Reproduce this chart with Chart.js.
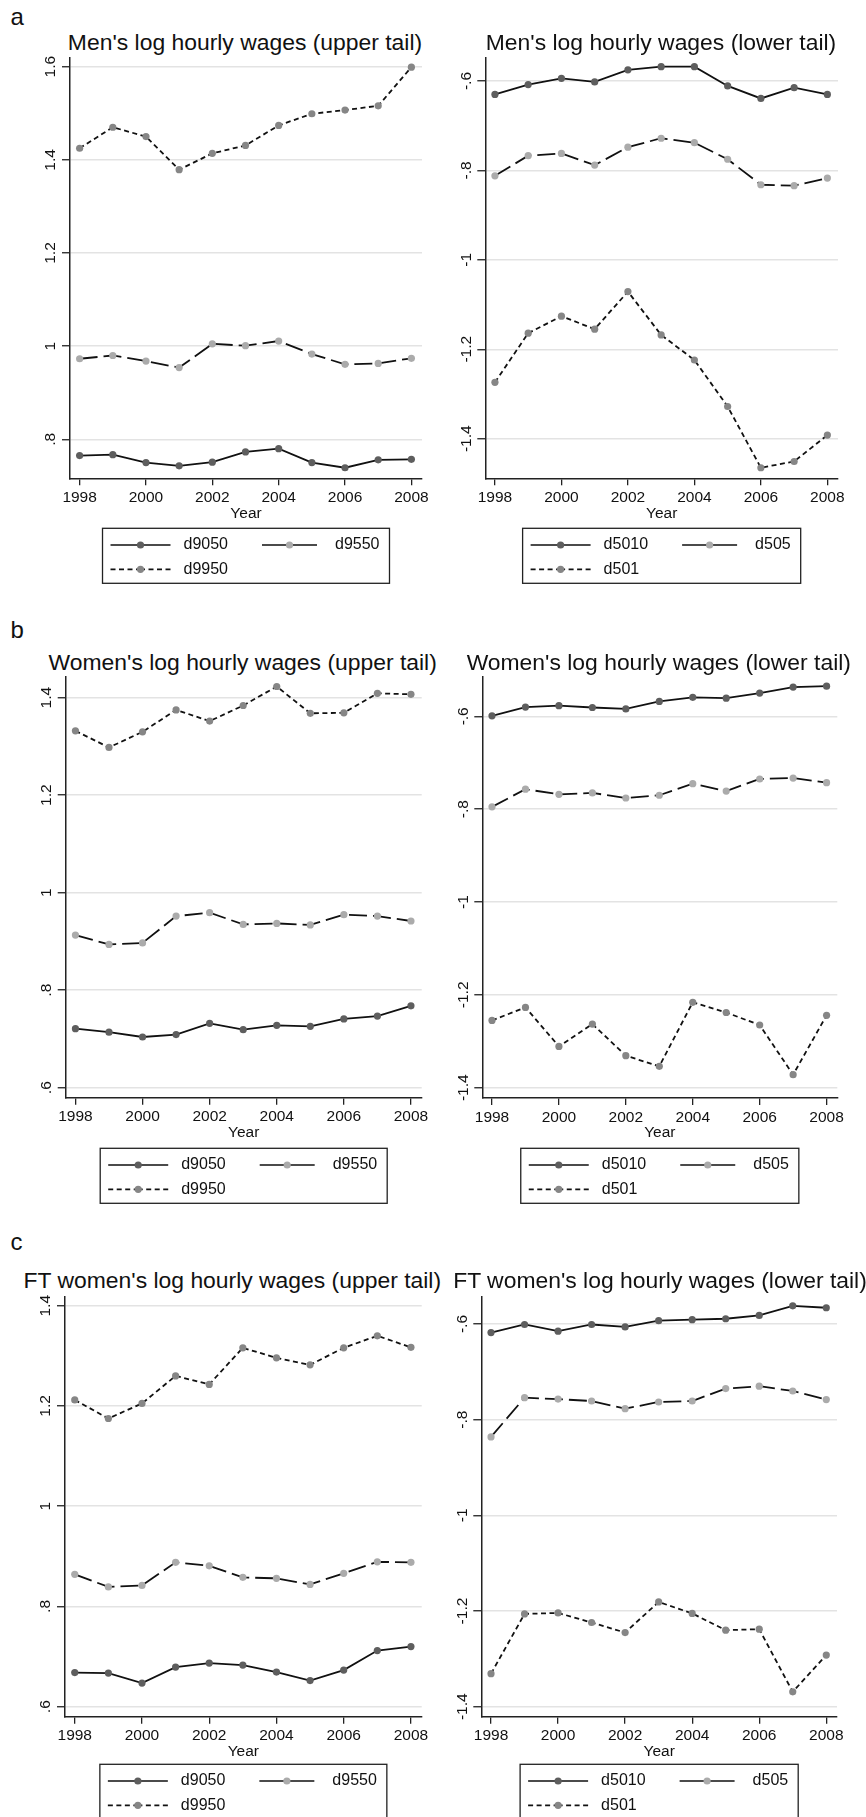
<!DOCTYPE html>
<html lang="en">
<head>
<meta charset="UTF-8">
<title>Log hourly wages, upper and lower tail</title>
<style>
  html, body { margin: 0; padding: 0; background: #fff; overflow: hidden; }
  #page { position: relative; width: 866px; height: 1817px; font-family: "Liberation Sans", Arial, Helvetica, sans-serif; color: #111; }
  #page canvas { position: absolute; }
  .titulo { position: absolute; width: 520px; text-align: center; font-size: 22.9px; line-height: 23px; white-space: nowrap; }
  .letra { position: absolute; left: 10.5px; font-size: 24px; line-height: 24px; }
</style>
</head>
<body>
<div id="page">
  <div class="letra" style="top:4.7px">a</div>
  <div class="letra" style="top:618px">b</div>
  <div class="letra" style="top:1230.4px">c</div>
</div>

<script src="https://cdn.jsdelivr.net/npm/chart.js"></script>
<script>
// dados
const years = [1998, 1999, 2000, 2001, 2002, 2003, 2004, 2005, 2006, 2007, 2008];
const xTickYears = [1998, 2000, 2002, 2004, 2006, 2008];

const upperNames = ['d9050', 'd9550', 'd9950'];
const lowerNames = ['d5010', 'd505', 'd501'];

const menUpperTicks = [0.8, 1, 1.2, 1.4, 1.6];
const menUpperTickLabels = ['.8', '1', '1.2', '1.4', '1.6'];
const womenUpperTicks = [0.6, 0.8, 1, 1.2, 1.4];
const womenUpperTickLabels = ['.6', '.8', '1', '1.2', '1.4'];
const lowerTicks = [-1.4, -1.2, -1, -0.8, -0.6];
const lowerTickLabels = ['-1.4', '-1.2', '-1', '-.8', '-.6'];

// a: homens
const menD9050 = [0.765, 0.767, 0.750, 0.743, 0.751, 0.773, 0.780, 0.750, 0.739, 0.756, 0.757];
const menD9550 = [0.973, 0.980, 0.968, 0.954, 1.005, 1.001, 1.011, 0.983, 0.961, 0.963, 0.974];
const menD9950 = [1.425, 1.470, 1.450, 1.379, 1.414, 1.431, 1.474, 1.499, 1.507, 1.516, 1.599];
const menD5010 = [-0.630, -0.608, -0.594, -0.602, -0.575, -0.568, -0.568, -0.611, -0.639, -0.615, -0.630];
const menD505 = [-0.812, -0.767, -0.762, -0.788, -0.748, -0.728, -0.738, -0.775, -0.832, -0.834, -0.817];
const menD501 = [-1.274, -1.164, -1.126, -1.155, -1.071, -1.168, -1.224, -1.328, -1.465, -1.451, -1.392];

// b: mulheres
const womenD9050 = [0.721, 0.714, 0.704, 0.709, 0.732, 0.719, 0.728, 0.726, 0.741, 0.747, 0.768];
const womenD9550 = [0.913, 0.894, 0.897, 0.952, 0.959, 0.935, 0.937, 0.934, 0.955, 0.952, 0.942];
const womenD9950 = [1.332, 1.298, 1.330, 1.375, 1.352, 1.384, 1.423, 1.368, 1.369, 1.409, 1.407];
const womenD5010 = [-0.599, -0.580, -0.577, -0.581, -0.584, -0.568, -0.559, -0.561, -0.550, -0.537, -0.535];
const womenD505 = [-0.795, -0.757, -0.768, -0.765, -0.776, -0.770, -0.745, -0.761, -0.735, -0.733, -0.743];
const womenD501 = [-1.255, -1.227, -1.311, -1.263, -1.331, -1.354, -1.216, -1.238, -1.265, -1.372, -1.244];

// c: mulheres tempo integral
const ftD9050 = [0.668, 0.667, 0.647, 0.679, 0.687, 0.683, 0.669, 0.652, 0.673, 0.712, 0.720];
const ftD9550 = [0.864, 0.839, 0.842, 0.888, 0.881, 0.858, 0.856, 0.844, 0.866, 0.889, 0.888];
const ftD9950 = [1.212, 1.175, 1.205, 1.260, 1.243, 1.316, 1.296, 1.282, 1.316, 1.340, 1.317];
const ftD5010 = [-0.618, -0.601, -0.615, -0.601, -0.606, -0.593, -0.591, -0.589, -0.582, -0.562, -0.566];
const ftD505 = [-0.836, -0.754, -0.757, -0.761, -0.777, -0.763, -0.761, -0.735, -0.730, -0.740, -0.758];
const ftD501 = [-1.331, -1.206, -1.204, -1.224, -1.245, -1.181, -1.205, -1.240, -1.238, -1.369, -1.292];

const fontFamily = '"Liberation Sans", Arial, Helvetica, sans-serif';
const dotColors = ['#5e5e5e', '#ababab', '#868686'];
const lineDashes = [[], [18, 6], [5, 3.5]];
const keyDashes = [[], [], [5, 3.5]];
const Y_AXIS_W = 40;
const X_AXIS_H = 44.3;

// posicao de cada painel na pagina (px)
const panels = [
    { title: "Men's log hourly wages (upper tail)", titleX: 245, titleBase: 50,
      box: {x: 0, y: 30, w: 433, h: 560}, area: {l: 70, t: 57.5, r: 422, b: 478.3},
      yMin: 0.7163, yMax: 1.6198, ticks: menUpperTicks, tickLabels: menUpperTickLabels,
      names: upperNames, series: [menD9050, menD9550, menD9950], legendTop: 528.3 },
    { title: "Men's log hourly wages (lower tail)", titleX: 661, titleBase: 50,
      box: {x: 433, y: 30, w: 433, h: 560}, area: {l: 485.3, t: 57.5, r: 838, b: 478.3},
      yMin: -1.4886, yMax: -0.5474, ticks: lowerTicks, tickLabels: lowerTickLabels,
      names: lowerNames, series: [menD5010, menD505, menD501], legendTop: 528.3 },
    { title: "Women's log hourly wages (upper tail)", titleX: 242.7, titleBase: 670,
      box: {x: 0, y: 650, w: 433, h: 560}, area: {l: 65.7, t: 677, r: 421.7, b: 1097.7},
      yMin: 0.5795, yMax: 1.4425, ticks: womenUpperTicks, tickLabels: womenUpperTickLabels,
      names: upperNames, series: [womenD9050, womenD9550, womenD9950], legendTop: 1148.3 },
    { title: "Women's log hourly wages (lower tail)", titleX: 658.8, titleBase: 670,
      box: {x: 433, y: 650, w: 433, h: 560}, area: {l: 482.3, t: 677, r: 837.3, b: 1098},
      yMin: -1.4222, yMax: -0.5153, ticks: lowerTicks, tickLabels: lowerTickLabels,
      names: lowerNames, series: [womenD5010, womenD505, womenD501], legendTop: 1148.3 },
    { title: "FT women's log hourly wages (upper tail)", titleX: 232.3, titleBase: 1288.3,
      box: {x: 0, y: 1270, w: 433, h: 547}, area: {l: 65, t: 1296.5, r: 421.7, b: 1716.7},
      yMin: 0.58, yMax: 1.4184, ticks: womenUpperTicks, tickLabels: womenUpperTickLabels,
      names: upperNames, series: [ftD9050, ftD9550, ftD9950], legendTop: 1764.3 },
    { title: "FT women's log hourly wages (lower tail)", titleX: 660, titleBase: 1288.3,
      box: {x: 433, y: 1270, w: 433, h: 547}, area: {l: 481.3, t: 1296.5, r: 837, b: 1716.7},
      yMin: -1.4209, yMax: -0.5425, ticks: lowerTicks, tickLabels: lowerTickLabels,
      names: lowerNames, series: [ftD5010, ftD505, ftD501], legendTop: 1764.3 }
];

// rotulos do eixo y (girados) e legenda no estilo Stata
function decorPlugin(p) {
    return {
        id: 'decor',
        afterDraw(chart) {
            const ctx = chart.ctx;
            const area = chart.chartArea;
            const yScale = chart.scales.y;

            ctx.save();
            ctx.font = '15.5px ' + fontFamily;
            ctx.fillStyle = '#111';
            ctx.textAlign = 'center';
            ctx.textBaseline = 'alphabetic';
            p.ticks.forEach((v, i) => {
                ctx.save();
                ctx.translate(area.left - 14.8, yScale.getPixelForValue(v));
                ctx.rotate(-Math.PI / 2);
                ctx.fillText(p.tickLabels[i], 0, 0);
                ctx.restore();
            });
            ctx.restore();

            // legenda
            ctx.save();
            ctx.font = '16px ' + fontFamily;
            const w1 = Math.max(ctx.measureText(p.names[0]).width, ctx.measureText(p.names[2]).width);
            const w2 = ctx.measureText(p.names[1]).width;
            const boxW = 8 + 60 + 13 + w1 + 34 + 55 + 18 + w2 + 10;
            const bx = (area.left + area.right) / 2 - boxW / 2;
            const by = p.legendTop - p.box.y;
            ctx.strokeStyle = '#222';
            ctx.lineWidth = 1.3;
            ctx.strokeRect(bx, by, boxW, 55);

            const col2 = bx + 81 + w1 + 34;
            const items = [
                {k: 0, x: bx + 8, len: 60, y: by + 16.7, tx: bx + 81},
                {k: 1, x: col2, len: 55, y: by + 16.7, tx: col2 + 73},
                {k: 2, x: bx + 8, len: 60, y: by + 41, tx: bx + 81}
            ];
            items.forEach(it => {
                ctx.strokeStyle = '#111';
                ctx.lineWidth = 1.7;
                ctx.setLineDash(keyDashes[it.k]);
                ctx.beginPath();
                ctx.moveTo(it.x, it.y);
                ctx.lineTo(it.x + it.len / 2, it.y);
                ctx.moveTo(it.x + it.len, it.y);
                ctx.lineTo(it.x + it.len / 2, it.y);
                ctx.stroke();
                ctx.setLineDash([]);
                ctx.fillStyle = dotColors[it.k];
                ctx.beginPath();
                ctx.arc(it.x + it.len / 2, it.y, 3.6, 0, Math.PI * 2);
                ctx.fill();
                ctx.fillStyle = '#111';
                ctx.textAlign = 'left';
                ctx.textBaseline = 'middle';
                ctx.fillText(p.names[it.k], it.tx, it.y);
            });
            ctx.restore();
        }
    };
}

const page = document.getElementById('page');

panels.forEach(p => {
    const titulo = document.createElement('div');
    titulo.className = 'titulo';
    titulo.textContent = p.title;
    titulo.style.left = (p.titleX - 260) + 'px';
    titulo.style.top = (p.titleBase - 19.4) + 'px';
    page.appendChild(titulo);

    const canvas = document.createElement('canvas');
    canvas.width = p.box.w;
    canvas.height = p.box.h;
    canvas.style.left = p.box.x + 'px';
    canvas.style.top = p.box.y + 'px';
    page.appendChild(canvas);

    const datasets = p.series.map((vals, k) => ({
        label: p.names[k],
        data: years.map((yr, i) => ({x: yr, y: vals[i]})),
        borderColor: '#111',
        borderWidth: 1.8,
        borderDash: lineDashes[k],
        pointRadius: 3.6,
        pointBorderWidth: 0,
        pointBackgroundColor: dotColors[k],
        tension: 0,
        fill: false
    }));

    new Chart(canvas, {
        type: 'line',
        data: { datasets: datasets },
        options: {
            responsive: false,
            animation: false,
            events: [],
            layout: {
                padding: {
                    left: p.area.l - p.box.x - Y_AXIS_W,
                    top: p.area.t - p.box.y,
                    right: p.box.x + p.box.w - p.area.r,
                    bottom: p.box.y + p.box.h - p.area.b - X_AXIS_H
                }
            },
            plugins: {
                legend: { display: false },
                tooltip: { enabled: false },
                title: { display: false }
            },
            scales: {
                x: {
                    type: 'linear',
                    min: 1997.71,
                    max: 2008.32,
                    afterBuildTicks: s => { s.ticks = xTickYears.map(v => ({value: v})); },
                    afterFit: s => { s.height = X_AXIS_H; },
                    grid: { drawOnChartArea: false, drawTicks: true, tickLength: 7, tickColor: '#222', lineWidth: 1.3 },
                    border: { color: '#222', width: 1.5 },
                    ticks: {
                        padding: 3.2, color: '#111', maxRotation: 0, autoSkip: false,
                        font: { size: 15.5, family: fontFamily },
                        callback: v => String(v)
                    },
                    title: { display: true, text: 'Year', color: '#111', padding: 0, font: { size: 15.5, family: fontFamily } }
                },
                y: {
                    type: 'linear',
                    min: p.yMin,
                    max: p.yMax,
                    afterBuildTicks: s => { s.ticks = p.ticks.map(v => ({value: v})); },
                    afterFit: s => { s.width = Y_AXIS_W; },
                    grid: { color: '#e3e3e3', lineWidth: 1.5, drawTicks: true, tickLength: 8, tickColor: '#222', tickWidth: 1.3 },
                    border: { color: '#222', width: 1.5 },
                    ticks: { display: false }
                }
            }
        },
        plugins: [decorPlugin(p)]
    });
});
</script>
</body>
</html>
